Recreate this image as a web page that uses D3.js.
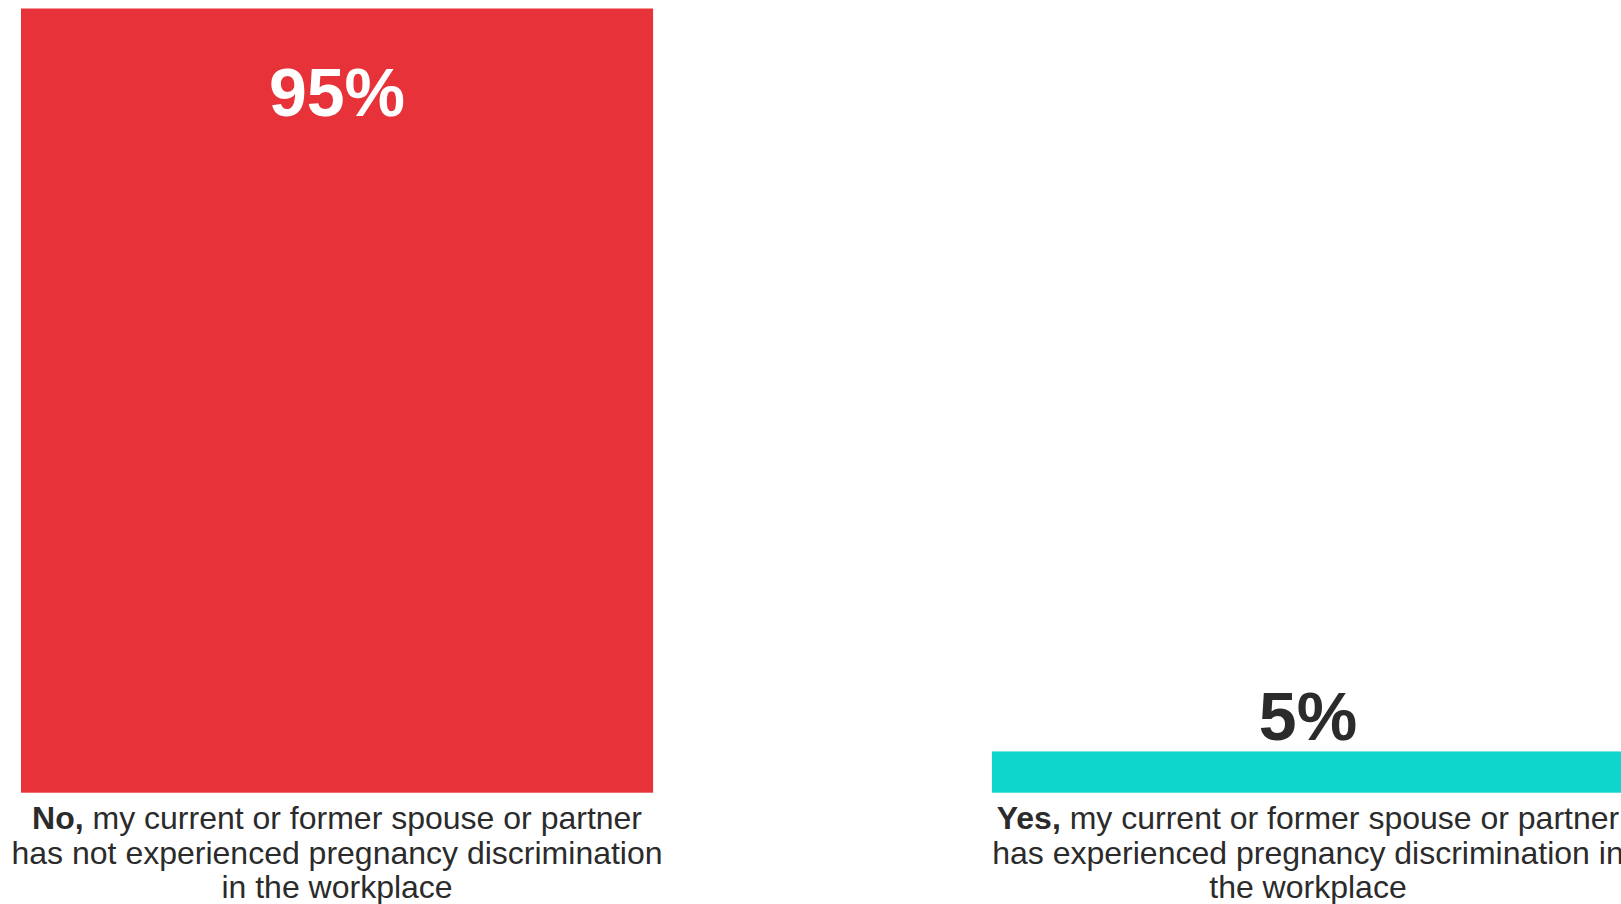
<!DOCTYPE html>
<html>
<head>
<meta charset="utf-8">
<script src="https://cdn.jsdelivr.net/npm/d3@7"></script>
<style>
  html, body { margin: 0; padding: 0; background: #fff; overflow: hidden; }
  svg { display: block; }
</style>
</head>
<body>
<svg id="chart" width="1621" height="904"></svg>
<script>
// ---- data ----
const categories = ["No", "Yes"];
const values = [95, 5];
const valueLabels = ["95%", "5%"];
const boldLead = ["No,", "Yes,"];
const labelLines = [
  [" my current or former spouse or partner", "has not experienced pregnancy discrimination", "in the workplace"],
  [" my current or former spouse or partner", "has experienced pregnancy discrimination in", "the workplace"]
];
const colors = ["#E83239", "#0ED6CC"];

// ---- layout ----
const svg = d3.select("#chart");

const x = d3.scaleBand()
  .domain(categories)
  .range([21, 1624])
  .paddingInner(0.349)
  .paddingOuter(0);

const y = d3.scaleLinear()
  .domain([0, d3.max(values)])
  .range([792.7, 8.5]);

const font = "'Liberation Sans', Arial, Helvetica, sans-serif";

// bars
svg.selectAll("rect.bar")
  .data(categories)
  .join("rect")
  .attr("class", "bar")
  .attr("x", d => x(d))
  .attr("y", (d, i) => y(values[i]))
  .attr("width", x.bandwidth())
  .attr("height", (d, i) => y(0) - y(values[i]))
  .attr("fill", (d, i) => colors[i]);

// value labels
svg.selectAll("text.val")
  .data(categories)
  .join("text")
  .attr("class", "val")
  .attr("x", d => x(d) + x.bandwidth() / 2)
  .attr("y", (d, i) => {
    const inside = (y(0) - y(values[i])) > 150;
    return inside ? y(values[i]) + 107 : y(values[i]) - 11;
  })
  .attr("text-anchor", "middle")
  .attr("font-family", font)
  .attr("font-weight", "bold")
  .attr("font-size", 68)
  .attr("fill", (d, i) => ((y(0) - y(values[i])) > 150 ? "#ffffff" : "#2b2b2b"))
  .text((d, i) => valueLabels[i]);

// category labels
const g = svg.selectAll("g.cat")
  .data(categories)
  .join("g")
  .attr("class", "cat")
  .attr("transform", d => `translate(${x(d) + x.bandwidth() / 2},0)`);

g.each(function (d, i) {
  const t = d3.select(this).append("text")
    .attr("text-anchor", "middle")
    .attr("font-family", font)
    .attr("font-size", 32)
    .attr("fill", "#2b2b2b");
  labelLines[i].forEach((line, j) => {
    const ts = t.append("tspan")
      .attr("x", 0)
      .attr("y", 829.3 + j * 34.5);
    if (j === 0) {
      ts.append("tspan").attr("font-weight", "bold").text(boldLead[i]);
      ts.append("tspan").text(line);
    } else {
      ts.text(line);
    }
  });
});
</script>
</body>
</html>
